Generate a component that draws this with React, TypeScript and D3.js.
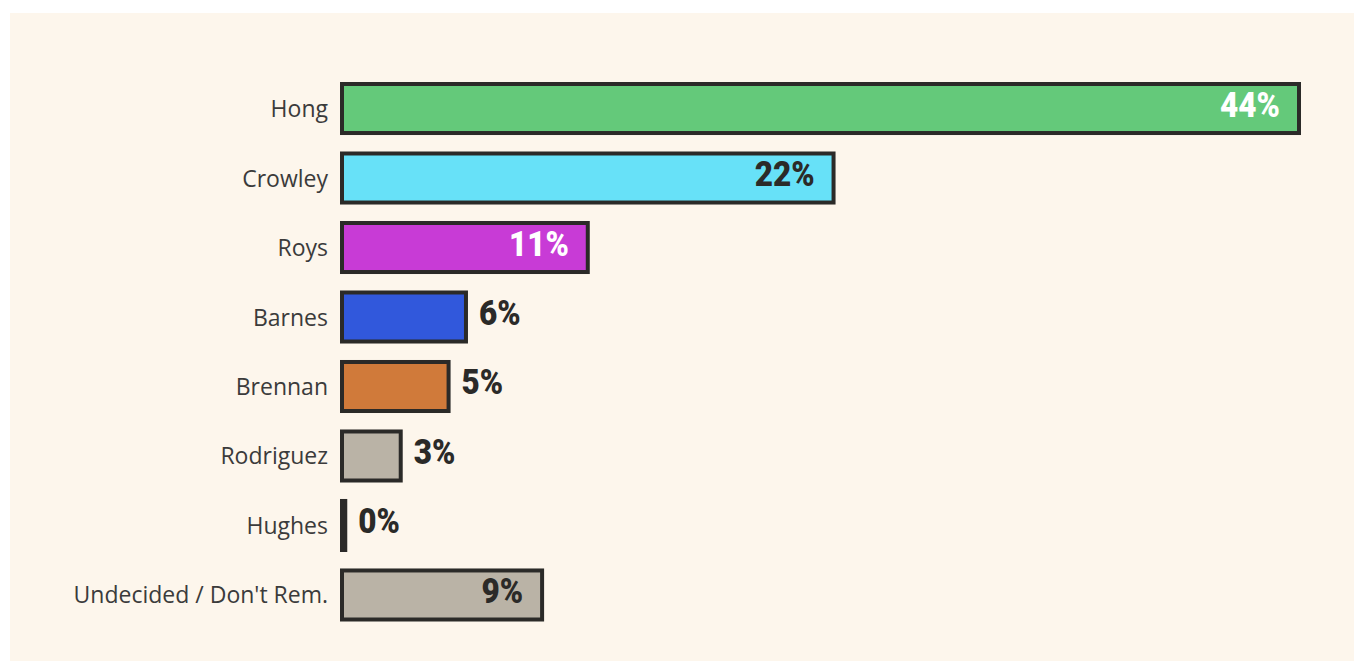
import * as d3 from "d3"

const categories = ["Hong", "Crowley", "Roys", "Barnes", "Brennan", "Rodriguez", "Hughes", "Undecided / Don't Rem."]
const shares = [44.0, 22.6, 11.3, 5.7, 4.9, 2.7, 0.15, 9.2]
const shareLabels = ["44%", "22%", "11%", "6%", "5%", "3%", "0%", "9%"]
const barColors = ["#64c97a", "#67e1f8", "#c83bd6", "#3158dc", "#d07a3a", "#bab3a6", "#2b2a28", "#bab3a6"]
const insideLabelColors = ["#ffffff", "#2b2a28", "#ffffff", "#2b2a28", "#2b2a28", "#2b2a28", "#2b2a28", "#2b2a28"]

const WIDTH = 1370
const HEIGHT = 670
const STROKE = 4

export default function App() {
  // x starts at the bar's left edge (stroke centre)
  const x = d3.scaleLinear().domain([0, 44]).range([342, 342 + 957])
  const y = d3
    .scaleBand<string>()
    .domain(categories)
    .range([82, 621.5])
    .paddingInner(0.237)
    .paddingOuter(0)

  return (
    <div style={{ position: "fixed", left: 0, top: 0, width: WIDTH, height: HEIGHT, background: "#ffffff" }}>
      <svg width={WIDTH} height={HEIGHT} style={{ display: "block" }}>
        <rect x={10} y={13} width={1344} height={648} fill="#fdf6ec" />

        {categories.map((c, i) => {
          const top = y(c) as number
          const h = y.bandwidth()
          const cy = top + h / 2
          const w = x(shares[i]) - x(0)
          const right = x(shares[i]) + STROKE / 2
          const inside = w > 150
          const tx = inside ? right - 21 : right + 11
          return (
            <g key={c}>
              <rect
                x={x(0)}
                y={top + STROKE / 2}
                width={w}
                height={h - STROKE}
                fill={barColors[i]}
                stroke="#2b2a28"
                strokeWidth={STROKE}
              />
              <text
                x={328}
                y={cy + 8.5}
                textAnchor="end"
                fill="#3b3b3b"
                style={{ fontFamily: "'Open Sans', 'Noto Sans', sans-serif", fontSize: "23px" }}
              >
                {c}
              </text>
              {/* condensed look: squeeze the bold figures horizontally */}
              <text
                transform={`translate(${tx},${cy + 8}) scale(0.9,1)`}
                textAnchor={inside ? "end" : "start"}
                fill={inside ? insideLabelColors[i] : "#2b2a28"}
                style={{ fontFamily: "Roboto, 'Noto Sans', sans-serif", fontWeight: 900, fontSize: "35px" }}
              >
                {shareLabels[i]}
              </text>
            </g>
          )
        })}
      </svg>
    </div>
  )
}
